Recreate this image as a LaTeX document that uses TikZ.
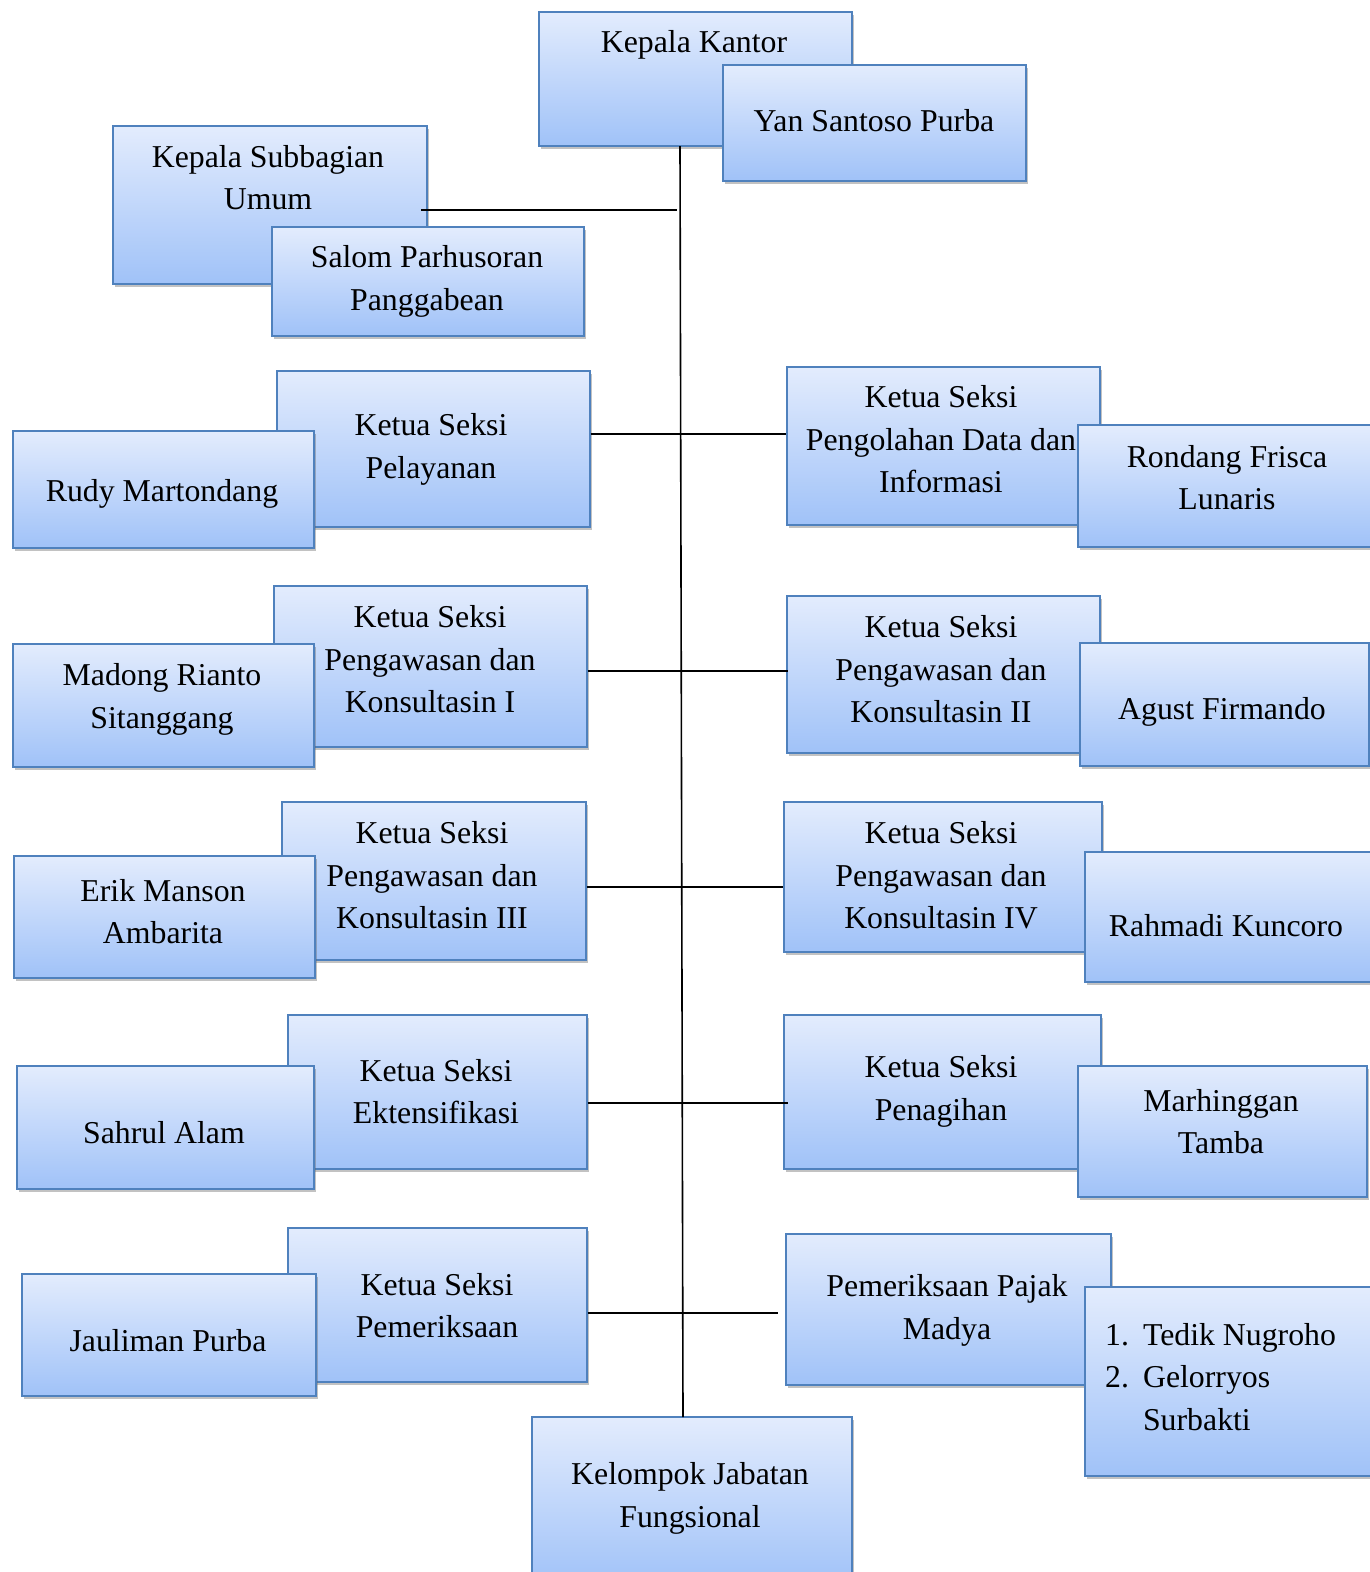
\documentclass[tikz,border=0pt]{standalone}
\usepackage{fontspec}
\setmainfont{Liberation Serif}
\usetikzlibrary{shadows}
\definecolor{bxline}{RGB}{79,129,189}
\definecolor{bxtop}{RGB}{227,236,253}
\definecolor{bxbot}{RGB}{160,194,248}
\tikzset{
  orgbox/.style={draw=bxline, line width=1.6pt, top color=bxtop, bottom color=bxbot,
    rectangle, inner sep=0pt, anchor=north west,
    drop shadow={shadow xshift=2.5pt, shadow yshift=-3pt, opacity=0.4, fill=black!60}},
  orgtxt/.style={align=center, inner sep=0pt, yshift=-4.5pt, font=\fontsize{31.8}{42.4}\selectfont},
  conn/.style={draw=black, line width=1.6pt}
}
% \obox{name}{x1}{y1}{x2}{y2}{tx}{ty}{text}
\newcommand{\obox}[8]{%
  \node[orgbox, minimum width=#4pt-#2pt, minimum height=#5pt-#3pt] (#1) at (#2,#3) {};
  \node[orgtxt] (#1-t) at (#6,#7) {#8};}
\begin{document}
\begin{tikzpicture}[x=1pt,y=-1pt]
\useasboundingbox (0,0) rectangle (1370,1572);
\clip (0,0) rectangle (1370,1572);

% spine and connector end points
\coordinate (sTop) at (680,146);
\coordinate (sBot) at (683,1417);
\coordinate (sUm) at (677,210);
\coordinate (pmEnd) at (778,1313);
\coordinate (kuEnd) at (421,210);

\obox{kk}{538}{11}{851}{145}{694}{40}{Kepala Kantor}
\obox{yan}{722}{64}{1025}{180}{874}{116}{Yan Santoso Purba}

\obox{ksu}{112}{125}{426}{283}{268}{173}{Kepala Subbagian\\Umum}
\obox{sal}{271}{226}{583}{335}{427}{277}{Salom Parhusoran\\Panggabean}

\obox{pel}{276}{370}{589}{526}{431}{445}{Ketua Seksi\\Pelayanan}
\obox{rud}{12}{430}{313}{547}{162}{489}{Rudy Martondang}

\obox{pdi}{786}{366}{1099}{524}{941}{435}{Ketua Seksi\\Pengolahan Data dan\\Informasi}
\obox{ron}{1077}{424}{1380}{546}{1227}{473}{Rondang Frisca\\Lunaris}

\obox{pk1}{273}{585}{586}{746}{430}{655}{Ketua Seksi\\Pengawasan dan\\Konsultasin I}
\obox{mad}{12}{643}{313}{766}{162}{695}{Madong Rianto\\Sitanggang}

\obox{pk2}{786}{595}{1099}{752}{941}{665}{Ketua Seksi\\Pengawasan dan\\Konsultasin II}
\obox{agu}{1079}{642}{1368}{765}{1222}{707}{Agust Firmando}

\obox{pk3}{281}{801}{585}{959}{432}{871}{Ketua Seksi\\Pengawasan dan\\Konsultasin III}
\obox{eri}{13}{855}{314}{977}{163}{907}{Erik Manson\\Ambarita}

\obox{pk4}{783}{801}{1101}{951}{941}{871}{Ketua Seksi\\Pengawasan dan\\Konsultasin IV}
\obox{rah}{1084}{851}{1378}{981}{1226}{921}{Rahmadi Kuncoro}

\obox{ekt}{287}{1014}{586}{1168}{436}{1087}{Ketua Seksi\\Ektensifikasi}
\obox{sah}{16}{1065}{313}{1188}{164}{1128}{Sahrul Alam}

\obox{pen}{783}{1014}{1100}{1168}{941}{1087}{Ketua Seksi\\Penagihan}
\obox{mar}{1077}{1065}{1366}{1196}{1221}{1117}{Marhinggan\\Tamba}

\obox{pem}{287}{1227}{586}{1381}{437}{1301}{Ketua Seksi\\Pemeriksaan}
\obox{jau}{21}{1273}{315}{1395}{168}{1336}{Jauliman Purba}

\obox{ppm}{785}{1233}{1110}{1384}{947}{1306}{Pemeriksaan Pajak\\Madya}
\node[orgbox, minimum width=300pt, minimum height=189pt] (lst) at (1084,1286) {};
\node[orgtxt, anchor=north west, align=left] (lst-t) at (1105,1311)
  {\begin{tabular}{@{}l@{\hspace{14pt}}l@{}}1. & Tedik Nugroho\\ 2. & Gelorryos\\ & Surbakti\end{tabular}};

\obox{kjf}{531}{1416}{851}{1585}{690}{1494}{Kelompok Jabatan\\Fungsional}

% connectors
\draw[conn] (sTop) -- (sBot);
\draw[conn] (kuEnd) -- (sUm);
\draw[conn] (582,434 -| pel.east) -- (pdi.west |- 0,434);
\draw[conn] (pk1.east |- 0,671) -- (788,671);
\draw[conn] (pk3.east |- 0,887) -- (pk4.west |- 0,887);
\draw[conn] (ekt.east |- 0,1103) -- (788,1103);
\draw[conn] (pem.east |- 0,1313) -- (pmEnd);
\end{tikzpicture}
\end{document}
